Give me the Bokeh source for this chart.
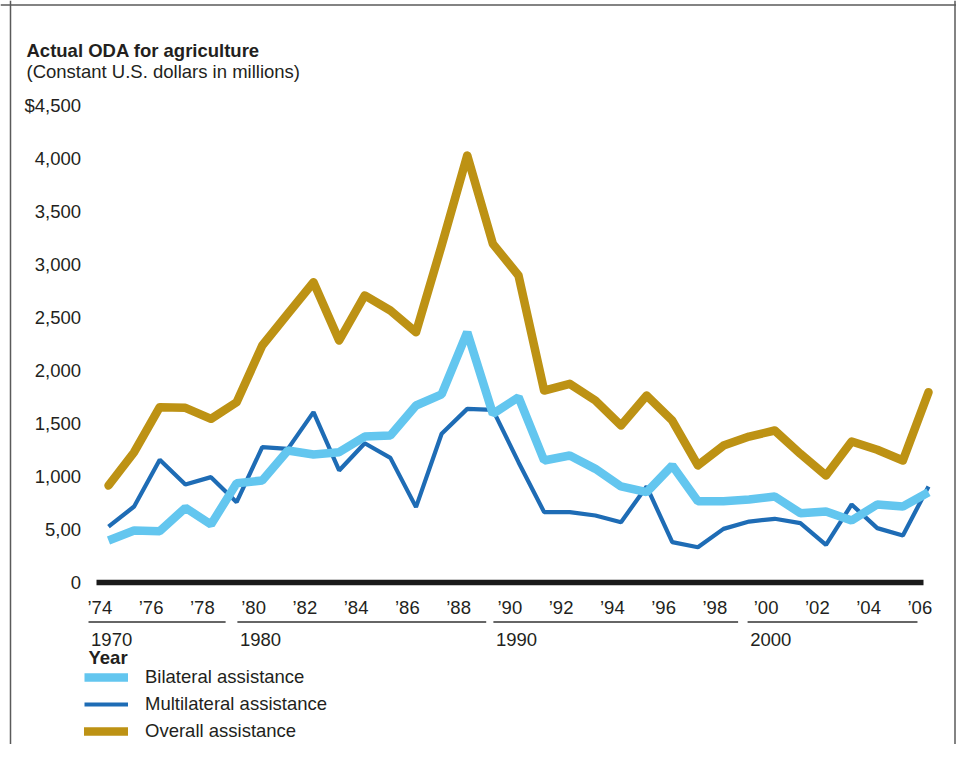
from bokeh.plotting import figure
from bokeh.models import Range1d, Span, Legend, LegendItem
from bokeh.core.properties import value
from bokeh.embed import file_html
from bokeh.resources import INLINE

# ---------------- data ----------------
years = list(range(1974, 2007))
bilateral = [396, 491, 484, 705, 547, 937, 962, 1245, 1208, 1229, 1377, 1387, 1670,
             1774, 2361, 1591, 1748, 1151, 1198, 1072, 906, 852, 1104, 767, 767,
             783, 811, 654, 670, 585, 736, 717, 852]
multilateral = [528, 717, 1157, 925, 994, 758, 1277, 1261, 1607, 1057, 1314, 1176, 711,
                1403, 1638, 1629, 1135, 664, 664, 632, 569, 906, 381, 333, 506,
                575, 601, 560, 355, 736, 513, 443, 906]
overall = [915, 1229, 1654, 1648, 1544, 1701, 2236, 2535, 2833, 2283, 2708, 2566, 2361,
           3179, 4028, 3195, 2896, 1811, 1874, 1717, 1481, 1764, 1528, 1104, 1292,
           1377, 1434, 1214, 1009, 1330, 1252, 1151, 1795]

y_tick_values = [0, 500, 1000, 1500, 2000, 2500, 3000, 3500, 4000, 4500]
y_tick_labels = ["0", "5,00", "1,000", "1,500", "2,000", "2,500", "3,000", "3,500", "4,000", "$4,500"]
x_tick_years = list(range(1974, 2007, 2))
x_tick_labels = ["\u2019%02d" % (y % 100) for y in x_tick_years]
decade_labels = ["1970", "1980", "1990", "2000"]

title_text = "Actual ODA for agriculture"
subtitle_text = "(Constant U.S. dollars in millions)"
x_title_text = "Year"
series_names = ["Bilateral assistance", "Multilateral assistance", "Overall assistance"]

# ---------------- layout ----------------
W, H = 956, 744
PX_PER_YEAR = 25.625
PX_PER_UNIT = 0.106
X0_PX = 108      # px where the first year sits
ZERO_PX = 582    # px (from top) of value 0
x_start = years[0] - X0_PX / PX_PER_YEAR
x_end = x_start + W / PX_PER_YEAR
y_end = ZERO_PX / PX_PER_UNIT
y_start = y_end - H / PX_PER_UNIT


def px_x(fx):
    return x_start + fx / PX_PER_YEAR


def px_y(fy):
    return y_end - fy / PX_PER_UNIT


FONT = value("Liberation Sans")
FS = "18.5px"
TXT = "#231F20"
GOLD = "#BD9214"
LIGHT = "#63C6EF"
DARK = "#1E6CB5"

p = figure(width=W, height=H, output_backend="svg", toolbar_location=None,
           x_range=Range1d(x_start, x_end), y_range=Range1d(y_start, y_end),
           x_axis_type=None, y_axis_type=None, min_border=0,
           background_fill_color="white", border_fill_color="white")
p.grid.visible = False
p.outline_line_color = None

# border (top, left, right)
for loc in [px_x(10), px_x(954.5)]:
    p.add_layout(Span(location=loc, dimension="height", line_color="#5A5A5A", line_width=1.5))
p.add_layout(Span(location=px_y(4.5), dimension="width", line_color="#5A5A5A", line_width=1.5))

# titles
p.text(x=[px_x(26)], y=[px_y(50)], text=[title_text], text_font=FONT,
       text_font_size=FS, text_font_style="bold", text_color=TXT,
       text_align="left", text_baseline="alphabetic")
p.text(x=[px_x(26)], y=[px_y(70.7)], text=[subtitle_text], text_font=FONT,
       text_font_size=FS, text_color=TXT,
       text_align="left", text_baseline="alphabetic")

# y tick labels
p.text(x=[px_x(80.5)] * len(y_tick_values), y=y_tick_values, text=y_tick_labels,
       text_font=FONT, text_font_size=FS, text_color=TXT,
       text_align="right", text_baseline="middle")

# series lines
r_over = p.line(years, overall, line_color=GOLD, line_width=8.5,
                line_join="round", line_cap="round")
r_multi = p.line(years, multilateral, line_color=DARK, line_width=4.2, line_join="bevel")
r_bi = p.line(years, bilateral, line_color=LIGHT, line_width=8.5, line_join="bevel")

# zero line
p.segment(x0=[px_x(96)], y0=[0], x1=[px_x(923)], y1=[0], line_color="#1A1A1A", line_width=5.5)

# x tick labels
p.text(x=[y - 21 / PX_PER_YEAR for y in x_tick_years], y=[px_y(607)] * len(x_tick_years),
       text=x_tick_labels, text_font=FONT, text_font_size=FS, text_color=TXT,
       text_align="left", text_baseline="middle")

# decade separators and labels
seg_start = [1973.22, 1979.03, 1989.02, 1998.94]
seg_end = [1978.57, 1988.74, 1998.57, 2005.57]
p.segment(x0=seg_start, y0=[px_y(621.5)] * 4, x1=seg_end, y1=[px_y(621.5)] * 4,
          line_color="#333333", line_width=1.5)
p.text(x=[s + 0.1 for s in seg_start], y=[px_y(638.5)] * 4, text=decade_labels,
       text_font=FONT, text_font_size=FS, text_color=TXT,
       text_align="left", text_baseline="middle")
p.text(x=[px_x(88)], y=[px_y(656.5)], text=[x_title_text], text_font=FONT,
       text_font_size=FS, text_font_style="bold", text_color=TXT,
       text_align="left", text_baseline="middle")

legend = Legend(items=[LegendItem(label=series_names[0], renderers=[r_bi]),
                       LegendItem(label=series_names[1], renderers=[r_multi]),
                       LegendItem(label=series_names[2], renderers=[r_over])],
                location=(84, 2), orientation="vertical", glyph_width=44, glyph_height=22,
                label_height=22, spacing=5, padding=0, margin=0, label_standoff=17,
                label_text_font="Liberation Sans", label_text_font_size=FS,
                label_text_color=TXT, border_line_color=None, background_fill_alpha=0)
p.add_layout(legend)

open("out.html", "w").write(file_html(p, INLINE))
